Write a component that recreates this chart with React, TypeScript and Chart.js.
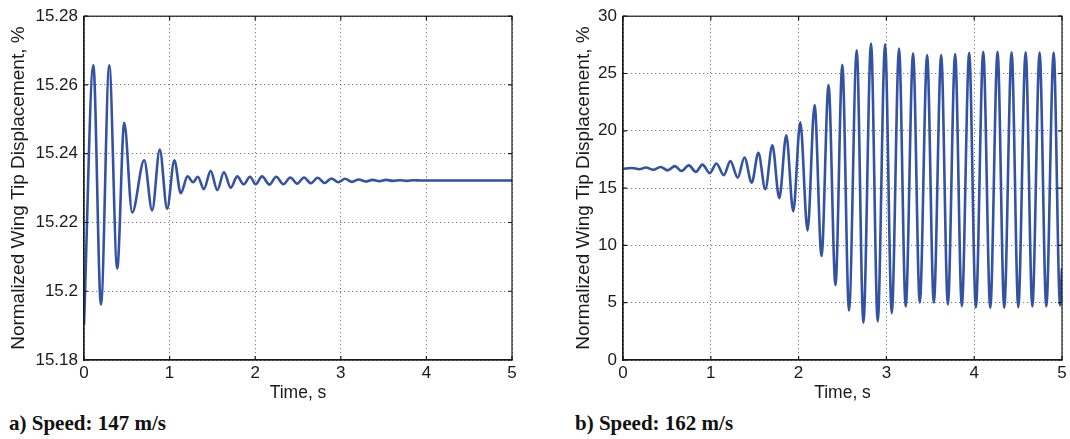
import { useEffect, useRef } from "react";
import { Chart, registerables } from "chart.js";

Chart.register(...registerables);

// ---- Data (extrema of the response) ----
const timeA = [
  0, 0.109, 0.198, 0.295, 0.388, 0.47, 0.563, 0.703, 0.796, 0.885, 0.971, 1.056, 1.13,
  1.21, 1.275, 1.33, 1.4, 1.48, 1.557, 1.635, 1.715, 1.79, 1.865, 1.94, 2.005, 2.08,
  2.167, 2.245, 2.33, 2.41, 2.49, 2.57, 2.65, 2.73, 2.81, 2.89, 2.97, 3.05, 3.13, 3.21,
  3.29, 3.37, 3.45, 3.53, 3.61, 3.69, 3.77, 3.85, 3.95, 5.0,
];
const dispA = [
  15.1902, 15.2658, 15.1961, 15.2657, 15.2066, 15.249, 15.2229, 15.2381, 15.2235, 15.2412,
  15.224, 15.2381, 15.2285, 15.2334, 15.2317, 15.2333, 15.2297, 15.235, 15.2294, 15.2346,
  15.2301, 15.2334, 15.2311, 15.2333, 15.2311, 15.2334, 15.231, 15.2333, 15.2311, 15.2331,
  15.2313, 15.2331, 15.2314, 15.233, 15.2315, 15.2328, 15.2317, 15.2327, 15.2318, 15.2325,
  15.2319, 15.2324, 15.232, 15.2324, 15.2321, 15.2323, 15.2321, 15.2323, 15.2322, 15.2322,
];

const timeB = [
  0, 0.098, 0.186, 0.261, 0.345, 0.428, 0.508, 0.591, 0.667, 0.75, 0.83, 0.905, 0.989,
  1.064, 1.148, 1.223, 1.307, 1.383, 1.466, 1.542, 1.621, 1.701, 1.78, 1.86, 1.939,
  2.019, 2.102, 2.182, 2.261, 2.341, 2.42, 2.498, 2.574, 2.662, 2.738, 2.825, 2.901,
  2.985, 3.061, 3.144, 3.22, 3.304, 3.38, 3.464, 3.54, 3.624, 3.7, 3.783, 3.859, 3.943,
  4.019, 4.103, 4.183, 4.266, 4.342, 4.426, 4.502, 4.586, 4.662, 4.745, 4.821, 4.905,
  4.978, 5.0,
];
const dispB = [
  16.68, 16.76, 16.64, 16.8, 16.6, 16.84, 16.55, 16.92, 16.49, 16.98, 16.42, 17.05, 16.3,
  17.15, 16.12, 17.35, 15.91, 17.67, 15.48, 18.07, 14.9, 18.73, 14.12, 19.6, 12.97,
  20.75, 11.3, 22.25, 9.08, 24.0, 6.54, 25.77, 4.32, 27.03, 3.26, 27.61, 3.37,
  27.55, 4.09, 27.18, 4.67, 26.77, 4.99, 26.6, 4.99, 26.6, 4.84, 26.69, 4.7, 26.8,
  4.58, 26.89, 4.55, 26.89, 4.55, 26.86, 4.61, 26.86, 4.67, 26.83, 4.67, 26.83,
  4.76, 8.0,
];

const xTicks = [0, 1, 2, 3, 4, 5];
const yTicksA = [15.18, 15.2, 15.22, 15.24, 15.26, 15.28];
const yTicksB = [0, 5, 10, 15, 20, 25, 30];
const xTitle = "Time, s";
const yTitle = "Normalized Wing Tip Displacement, %";
const captionA = "a) Speed: 147 m/s";
const captionB = "b) Speed: 162 m/s";

const LINE_COLOR = "#3352a3";
const INK = "#1a1a1a";
const SANS = "'Liberation Sans', Arial, Helvetica, sans-serif";

const boxPlugin = {
  id: "matlabBox",
  afterDraw(chart: any) {
    const { ctx, chartArea, scales } = chart;
    const { left, right, top, bottom } = chartArea;
    ctx.save();
    ctx.strokeStyle = INK;
    ctx.lineWidth = 1.2;
    ctx.strokeRect(left, top, right - left, bottom - top);
    const len = 4;
    ctx.beginPath();
    scales.x.ticks.forEach((t: any) => {
      const px = scales.x.getPixelForValue(t.value);
      ctx.moveTo(px, bottom);
      ctx.lineTo(px, bottom - len);
      ctx.moveTo(px, top);
      ctx.lineTo(px, top + len);
    });
    scales.y.ticks.forEach((t: any) => {
      const py = scales.y.getPixelForValue(t.value);
      ctx.moveTo(left, py);
      ctx.lineTo(left + len, py);
      ctx.moveTo(right, py);
      ctx.lineTo(right - len, py);
    });
    ctx.stroke();
    ctx.restore();
  },
};

type PanelProps = {
  times: number[];
  values: number[];
  yTicks: number[];
  width: number;
  height: number;
  padLeft: number;
  padRight: number;
  yAxisWidth: number;
};

function Panel({ times, values, yTicks, width, height, padLeft, padRight, yAxisWidth }: PanelProps) {
  const ref = useRef<HTMLCanvasElement | null>(null);
  useEffect(() => {
    if (!ref.current) return;
    const points = times.map((t, i) => ({ x: t, y: values[i] }));
    const gridStyle = {
      color: "rgba(40,40,40,0.75)",
      lineWidth: 1,
      drawTicks: false,
    };
    const chart = new Chart(ref.current, {
      type: "line",
      data: {
        datasets: [
          {
            data: points,
            borderColor: LINE_COLOR,
            borderWidth: 2.6,
            pointRadius: 0,
            fill: false,
            cubicInterpolationMode: "monotone",
          },
        ],
      },
      options: {
        responsive: false,
        animation: false,
        devicePixelRatio: 1,
        layout: { padding: { left: padLeft, right: padRight, top: 13, bottom: 0 } },
        plugins: { legend: { display: false }, tooltip: { enabled: false } },
        scales: {
          x: {
            type: "linear",
            min: xTicks[0],
            max: xTicks[xTicks.length - 1],
            afterBuildTicks: (s: any) => {
              s.ticks = xTicks.map((v) => ({ value: v }));
            },
            afterFit: (s: any) => {
              s.height = height - 360;
            },
            grid: gridStyle,
            border: { display: true, color: INK, width: 1.2, dash: [1, 3] },
            ticks: {
              padding: 3,
              color: INK,
              font: { family: SANS, size: 17 },
              maxRotation: 0,
              callback: (v: any) => String(v),
            },
            title: {
              display: true,
              text: xTitle,
              color: INK,
              font: { family: SANS, size: 17.5 },
              padding: { top: 0, bottom: 6.5 },
            },
          },
          y: {
            type: "linear",
            min: yTicks[0],
            max: yTicks[yTicks.length - 1],
            afterBuildTicks: (s: any) => {
              s.ticks = yTicks.map((v) => ({ value: v }));
            },
            afterFit: (s: any) => {
              s.width = yAxisWidth;
            },
            grid: gridStyle,
            border: { display: true, color: INK, width: 1.2, dash: [1, 3] },
            ticks: {
              padding: 6,
              color: INK,
              font: { family: SANS, size: 17 },
              callback: (v: any) => String(Number(Number(v).toFixed(2))),
            },
            title: {
              display: true,
              text: yTitle,
              color: INK,
              font: { family: SANS, size: 19 },
              padding: { top: 7.2, bottom: 0 },
            },
          },
        },
      },
      plugins: [boxPlugin],
    });
    return () => chart.destroy();
  }, [times, values, yTicks, width, height, padLeft, padRight, yAxisWidth]);
  return <canvas ref={ref} width={width} height={height} style={{ display: "block", width, height }} />;
}

const captionStyle: any = {
  position: "absolute",
  top: 413,
  fontFamily: "'Liberation Serif', 'Times New Roman', serif",
  fontWeight: "bold",
  fontSize: 21,
  lineHeight: "21px",
  color: "#111",
  whiteSpace: "nowrap",
};

export default function App() {
  return (
    <div style={{ position: "fixed", left: 0, top: 0, width: 1070, height: 439, background: "#fff", overflow: "hidden" }}>
      <div style={{ position: "absolute", left: 0, top: 0 }}>
        <Panel times={timeA} values={dispA} yTicks={yTicksA} width={540} height={410} padLeft={0} padRight={28} yAxisWidth={84} />
      </div>
      <div style={{ position: "absolute", left: 540, top: 0 }}>
        <Panel times={timeB} values={dispB} yTicks={yTicksB} width={530} height={410} padLeft={25} padRight={8} yAxisWidth={58} />
      </div>
      <div style={{ ...captionStyle, left: 9 }}>{captionA}</div>
      <div style={{ ...captionStyle, left: 575 }}>{captionB}</div>
    </div>
  );
}
